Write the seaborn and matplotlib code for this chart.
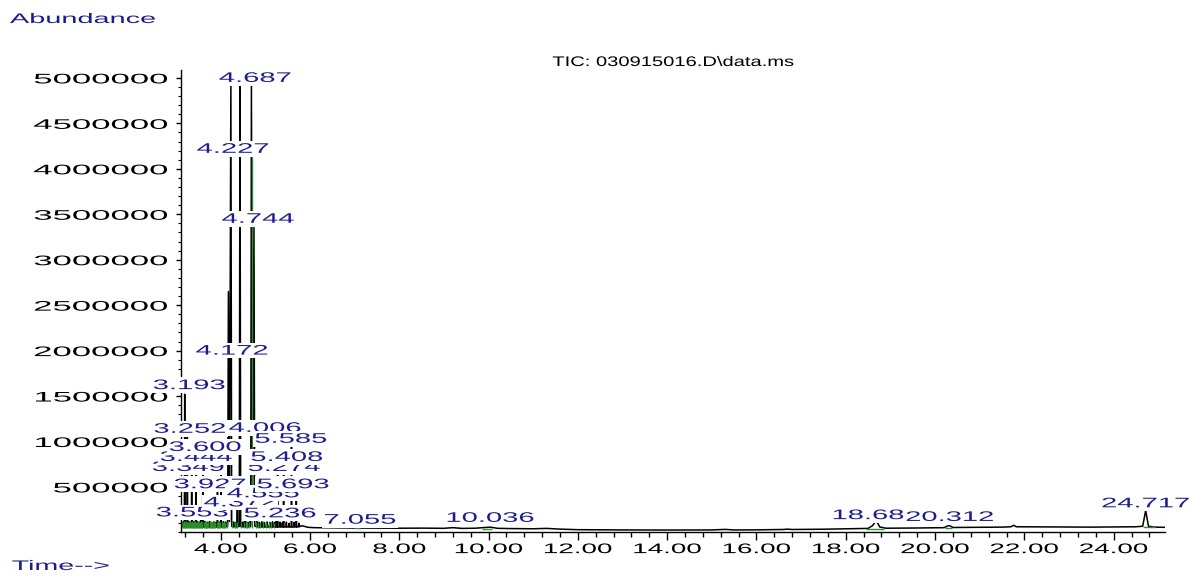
import numpy as np
import pandas as pd
import matplotlib
matplotlib.use("Agg")
import matplotlib.pyplot as plt
import seaborn as sns
from matplotlib.patheffects import AbstractPathEffect
from matplotlib.transforms import Affine2D
from matplotlib.ticker import MultipleLocator, FixedLocator, FuncFormatter

# ---------------- data ----------------
trace_time = [
    3.12, 3.15, 3.16, 3.17, 3.185, 3.193, 3.201, 3.22, 3.23, 3.24,
    3.246, 3.252, 3.259, 3.28, 3.29, 3.30, 3.32, 3.33, 3.338, 3.343,
    3.349, 3.356, 3.38, 3.39, 3.40, 3.42, 3.43, 3.437, 3.444, 3.451,
    3.47, 3.48, 3.49, 3.51, 3.52, 3.53, 3.546, 3.553, 3.56, 3.593,
    3.600, 3.607, 3.64, 3.65, 3.66, 3.69, 3.70, 3.71, 3.74, 3.75,
    3.76, 3.79, 3.80, 3.81, 3.84, 3.85, 3.86, 3.88, 3.89, 3.90,
    3.92, 3.927, 3.934, 3.96, 3.97, 3.98, 3.999, 4.006, 4.013, 4.05,
    4.06, 4.07, 4.10, 4.11, 4.12, 4.155, 4.172, 4.195, 4.227, 4.245,
    4.28, 4.29, 4.30, 4.33, 4.34, 4.35, 4.365, 4.372, 4.379, 4.415,
    4.431, 4.447, 4.48, 4.49, 4.50, 4.52, 4.53, 4.54, 4.548, 4.555,
    4.562, 4.60, 4.61, 4.62, 4.64, 4.65, 4.66, 4.672, 4.687, 4.713,
    4.744, 4.762, 4.80, 4.81, 4.82, 4.85, 4.86, 4.87, 4.91, 4.92,
    4.93, 4.97, 4.98, 4.99, 5.03, 5.04, 5.05, 5.09, 5.10, 5.11,
    5.15, 5.16, 5.17, 5.20, 5.21, 5.22, 5.229, 5.236, 5.243, 5.267,
    5.274, 5.281, 5.32, 5.33, 5.34, 5.37, 5.38, 5.39, 5.401, 5.408,
    5.415, 5.46, 5.47, 5.48, 5.52, 5.53, 5.54, 5.578, 5.585, 5.592,
    5.63, 5.64, 5.65, 5.686, 5.693, 5.700, 5.74, 5.75, 5.76, 5.80,
    5.85, 5.95, 6.10, 6.50, 7.00, 7.055, 7.10, 7.50, 8.00, 8.50,
    9.00, 9.20, 9.40, 9.70, 10.036, 10.20, 10.50, 11.00, 11.30, 11.60,
    12.00, 13.00, 14.00, 15.00, 15.30, 15.50, 16.00, 16.60, 16.70, 16.80,
    17.50, 18.00, 18.50, 18.60, 18.683, 18.76, 18.90, 19.50, 20.20, 20.312,
    20.40, 21.00, 21.50, 21.70, 21.76, 21.82, 22.50, 23.00, 23.50, 24.00,
    24.50, 24.65, 24.717, 24.78, 24.90, 25.14,
]
trace_abund = [
    60000, 62000, 115000, 60000, 62000, 1520000, 64000, 62000, 110000, 62000,
    63000, 1080000, 63000, 60000, 118000, 60000, 61000, 105000, 61000, 61000,
    700000, 61000, 60000, 120000, 60000, 61000, 112000, 61000, 820000, 61000,
    60000, 118000, 60000, 60000, 110000, 60000, 60000, 240000, 60000, 60000,
    920000, 60000, 60000, 120000, 60000, 60000, 112000, 60000, 60000, 118000,
    60000, 60000, 108000, 60000, 60000, 116000, 60000, 60000, 110000, 60000,
    60000, 500000, 60000, 60000, 112000, 60000, 62000, 1020000, 62000, 60000,
    118000, 60000, 62000, 115000, 62000, 70000, 2650000, 120000, 4930000, 70000,
    62000, 115000, 62000, 62000, 110000, 62000, 62000, 300000, 62000, 66000,
    4930000, 66000, 62000, 112000, 62000, 62000, 118000, 62000, 62000, 420000,
    62000, 62000, 110000, 62000, 62000, 116000, 62000, 70000, 4930000, 250000,
    3400000, 70000, 62000, 118000, 62000, 60000, 112000, 60000, 60000, 116000,
    60000, 60000, 108000, 60000, 60000, 115000, 60000, 60000, 110000, 60000,
    60000, 116000, 60000, 60000, 108000, 60000, 60000, 220000, 60000, 60000,
    680000, 60000, 60000, 112000, 60000, 60000, 105000, 60000, 60000, 800000,
    60000, 60000, 112000, 60000, 60000, 100000, 60000, 60000, 1000000, 60000,
    60000, 110000, 60000, 60000, 500000, 60000, 62000, 100000, 62000, 72000,
    70000, 56000, 52000, 50000, 48000, 60000, 48000, 47000, 46000, 47000,
    45000, 52000, 44000, 46000, 58000, 45000, 42000, 40000, 44000, 36000,
    30000, 27000, 26000, 27000, 33000, 27000, 28000, 32000, 36000, 32000,
    35000, 40000, 44000, 75000, 130000, 60000, 46000, 48000, 52000, 78000,
    54000, 56000, 58000, 62000, 78000, 62000, 60000, 58000, 58000, 60000,
    62000, 68000, 240000, 68000, 58000, 56000,
]

# green integration marks in the early cluster
green_time = [3.13, 3.15, 3.17, 3.19, 3.21, 3.23, 3.25, 3.27, 3.29, 3.31,
              3.33, 3.35, 3.37, 3.39, 3.41, 3.43, 3.45, 3.47, 3.49, 3.51,
              3.53, 3.55, 3.57, 3.59, 3.62, 3.64, 3.66, 3.68, 3.70, 3.72,
              3.75, 3.77, 3.79, 3.81, 3.83, 3.86, 3.88, 3.91, 3.94, 3.96,
              3.99, 4.02, 4.04, 4.08, 4.10, 4.13, 4.26, 4.31, 4.33, 4.36,
              4.46, 4.51, 4.57, 4.59, 4.63, 4.70, 4.78, 4.84, 4.89, 4.95,
              5.01, 5.07, 5.13, 5.19]
green_top = [118000, 112000, 120000, 115000, 110000, 122000, 116000, 112000, 120000, 118000,
             110000, 121000, 116000, 112000, 119000, 122000, 112000, 118000, 120000, 110000,
             117000, 121000, 113000, 119000, 116000, 120000, 112000, 118000, 116000, 120000,
             112000, 118000, 121000, 114000, 119000, 120000, 117000, 112000, 120000, 114000,
             118000, 110000, 116000, 108000, 118000, 112000, 120000, 115000, 110000, 118000,
             116000, 112000, 120000, 118000, 110000, 4130000, 116000, 112000, 119000, 122000,
             112000, 118000, 110000, 104000]
green_floor = 52000

# green integration baselines under later peaks
gbase_start = [7.00, 9.85, 18.45, 20.22, 24.66]
gbase_end = [7.12, 10.08, 18.85, 20.38, 24.92]
gbase_level = [44000, 42000, 42000, 50000, 60000]

# peak labels: text, label position (time, abundance)
label_text = ["3.193", "3.252", "3.349", "3.444", "3.553", "3.600", "3.927",
              "4.006", "4.172", "4.227", "4.372", "4.555", "4.687", "4.744",
              "5.236", "5.274", "5.408", "5.585", "5.693", "7.055", "10.036",
              "18.683", "20.312", "24.717"]
label_time = [3.29, 3.31, 3.27, 3.45, 3.36, 3.65, 3.76,
              4.99, 4.25, 4.275, 4.43, 4.95, 4.77, 4.835,
              5.33, 5.42, 5.48, 5.57, 5.62, 7.12, 10.036,
              18.683, 20.33, 24.717]
label_abund = [1620000, 1140000, 720000, 830000, 220000, 940000, 530000,
               1150000, 2000000, 4220000, 330000, 430000, 5000000, 3450000,
               210000, 720000, 830000, 1030000, 530000, 140000, 160000,
               190000, 170000, 320000]

x_major = [4, 6, 8, 10, 12, 14, 16, 18, 20, 22, 24]
y_major = [500000, 1000000, 1500000, 2000000, 2500000, 3000000,
           3500000, 4000000, 4500000, 5000000]

title_text = "TIC: 030915016.D\\data.ms"
ylabel_text = "Abundance"
xlabel_text = "Time-->"


# ---------------- horizontal stretch effect (wide instrument font) ----------------
class Stretch(AbstractPathEffect):
    def __init__(self, sx=2.0, anchor="center"):
        super().__init__()
        self.sx = sx
        self.anchor = anchor

    def draw_path(self, renderer, gc, tpath, affine, rgbFace=None):
        ext = tpath.get_extents()
        if self.anchor == "center":
            cx = (ext.x0 + ext.x1) / 2
        elif self.anchor == "right":
            cx = ext.x1
        else:
            cx = ext.x0
        t = Affine2D().translate(-cx, 0).scale(self.sx, 1).translate(cx, 0) + affine
        renderer.draw_path(gc, tpath, t, rgbFace)


sns.set_theme(style="white")
plt.rcParams["font.family"] = ["Liberation Sans", "DejaVu Sans"]

NAVY = "#1c1c8e"
GREEN = "#2a8f2a"

fig = plt.figure(figsize=(11.94, 5.76), dpi=100)
ax = fig.add_axes([181 / 1194, 1 - 532.4 / 576, (1165 - 181) / 1194, (532.4 - 70) / 576])

df = pd.DataFrame({"time": trace_time, "abundance": trace_abund})
sns.lineplot(data=df, x="time", y="abundance", color="black", linewidth=1.1,
             estimator=None, sort=False, ax=ax, zorder=2)

ax.vlines(green_time, green_floor, green_top, color=GREEN, linewidth=1.0, zorder=2.2)
ax.hlines(gbase_level, gbase_start, gbase_end, color=GREEN, linewidth=1.0, zorder=2.2)

ax.set_xlim(3.11, 25.15)
ax.set_ylim(0, 5087000)
ax.set_xlabel("")
ax.set_ylabel("")

ax.xaxis.set_major_locator(FixedLocator(x_major))
ax.xaxis.set_major_formatter(FuncFormatter(lambda v, p: f"{v:.2f}"))
ax.xaxis.set_minor_locator(MultipleLocator(0.4))
ax.yaxis.set_major_locator(FixedLocator(y_major))
ax.yaxis.set_major_formatter(FuncFormatter(lambda v, p: f"{int(round(v))}"))
ax.yaxis.set_minor_locator(MultipleLocator(100000))

for s in ["top", "right"]:
    ax.spines[s].set_visible(False)
for s in ["left", "bottom"]:
    ax.spines[s].set_color("black")
    ax.spines[s].set_linewidth(1.0)

ax.tick_params(axis="x", which="major", direction="out", length=6, width=1,
               color="black", labelsize=10, labelcolor="black", pad=1, bottom=True)
ax.tick_params(axis="x", which="minor", direction="out", length=3.5, width=1,
               color="black", bottom=True)
ax.tick_params(axis="y", which="major", direction="out", length=3.5, width=1,
               color="black", labelsize=10, labelcolor="black", pad=6, left=True)
ax.tick_params(axis="y", which="minor", direction="out", length=2, width=0.8,
               color="black", left=True)
ax.grid(False)

for tk in ax.xaxis.get_major_ticks():
    tk.label1.set_path_effects([Stretch(2.0, "center")])
for tk in ax.yaxis.get_major_ticks():
    tk.label1.set_path_effects([Stretch(2.5, "right")])

order = sorted(range(len(label_text)), key=lambda i: float(label_text[i]))
for i in order:
    t = ax.text(label_time[i], label_abund[i], label_text[i], ha="center", va="center",
                color=NAVY, fontsize=10, zorder=5, clip_on=False,
                bbox=dict(boxstyle="square,pad=0.06", fc="white", ec="none"))
    t.set_path_effects([Stretch(2.1, "center")])
    t.get_bbox_patch().set_path_effects([Stretch(2.1, "center")])

tt = fig.text(673 / 1194, 1 - 62 / 576, title_text, ha="center", va="center",
              fontsize=10, color="black")
tt.set_path_effects([Stretch(1.45, "center")])

ty = fig.text(10 / 1194, 1 - 19 / 576, ylabel_text, ha="left", va="center",
              fontsize=10, color=NAVY)
ty.set_path_effects([Stretch(2.08, "left")])

tx = fig.text(12 / 1194, 1 - 566 / 576, xlabel_text, ha="left", va="center",
              fontsize=10, color=NAVY)
tx.set_path_effects([Stretch(2.06, "left")])

fig.savefig("out.png", dpi=100, facecolor="white")
